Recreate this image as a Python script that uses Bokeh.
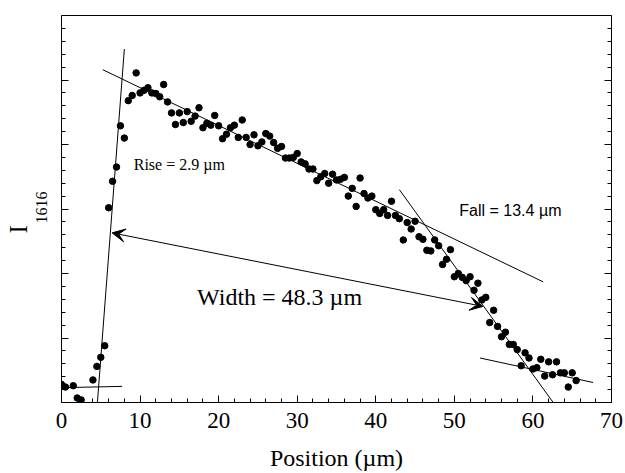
from bokeh.plotting import figure
from bokeh.models import (LinearAxis, SingleIntervalTicker, FixedTicker, Label, Arrow,
                          VeeHead, Range1d, ColumnDataSource, Title)
from bokeh.embed import file_html
from bokeh.resources import INLINE

# ---- data (position in micrometres, I1616 intensity in arbitrary units) ----
position_um = [0, 0.5, 1.5, 2, 2.5, 4, 4.5, 5, 5.5, 6, 6.5, 7, 7.5, 8, 8.5, 9, 9.5,
               10, 10.5, 11, 11.5, 12, 12.5, 13, 13.5, 14, 14.5, 15, 15.5, 16, 16.5,
               17, 17.5, 18, 18.5, 19, 19.5, 20, 20.5, 21, 21.5, 22, 22.5, 23, 23.5,
               24, 24.5, 25, 25.5, 26, 26.5, 27, 27.5, 28, 28.5, 29, 29.5, 30, 30.5,
               31, 31.5, 32, 32.5, 33, 33.5, 34, 34.5, 35, 35.5, 36, 36.5, 37, 37.5,
               38, 38.5, 39, 39.5, 40, 40.5, 41, 41.5, 42, 42.5, 43, 43.5, 44, 44.5,
               45, 45.5, 46, 46.5, 47, 47.5, 48, 48.5, 49, 49.5, 50, 50.5, 51, 51.5,
               52, 52.5, 53, 53.5, 54, 54.5, 55, 55.5, 56, 56.5, 57, 57.5, 58, 58.5,
               59, 59.5, 60, 60.5, 61, 61.5, 62, 62.5, 63, 63.5, 64, 64.5, 65, 65.5]
intensity = [0.28, 0.24, 0.26, 0.07, 0.04, 0.35, 0.56, 0.70, 0.88, 3.02, 3.43, 3.65, 4.29,
             4.10, 4.68, 4.76, 5.11, 4.80, 4.84, 4.88, 4.80, 4.79, 4.74, 4.93, 4.66, 4.49,
             4.31, 4.49, 4.34, 4.51, 4.36, 4.44, 4.57, 4.26, 4.33, 4.30, 4.45, 4.29, 4.09,
             4.16, 4.26, 4.30, 4.11, 4.38, 4.11, 4.00, 4.15, 3.98, 4.04, 4.17, 4.13, 4.03,
             3.94, 3.97, 3.79, 3.79, 3.80, 3.86, 3.73, 3.70, 3.62, 3.62, 3.44, 3.50, 3.55,
             3.40, 3.54, 3.45, 3.46, 3.49, 3.20, 3.32, 3.04, 3.48, 3.24, 3.17, 3.20, 2.99,
             2.93, 2.99, 2.90, 3.12, 2.90, 2.85, 2.52, 2.79, 2.69, 2.81, 2.57, 2.53, 2.36,
             2.35, 2.52, 2.43, 2.14, 2.22, 2.37, 1.95, 2.00, 1.94, 1.89, 1.95, 1.74, 1.85,
             1.59, 1.63, 1.24, 1.43, 1.18, 1.02, 1.09, 0.90, 0.90, 0.82, 0.57, 0.77, 0.69,
             0.52, 0.54, 0.67, 0.41, 0.63, 0.43, 0.63, 0.46, 0.46, 0.24, 0.46, 0.34]

# fitted lines (endpoints in data units)
rise_fit_x = [4.57, 8.0]
rise_fit_y = [0.0, 5.48]
base_fit_x = [0.0, 7.72]
base_fit_y = [0.23, 0.25]
plateau_fit_x = [5.25, 61.31]
plateau_fit_y = [5.16, 1.87]
fall_fit_x = [43.0, 62.58]
fall_fit_y = [3.30, 0.0]
tail_fit_x = [53.26, 67.66]
tail_fit_y = [0.69, 0.31]
width_arrow_x = [6.44, 53.64]
width_arrow_y = [2.63, 1.49]

x_ticks = [0, 10, 20, 30, 40, 50, 60, 70]
y_major_ticks = [0, 1, 2, 3, 4, 5, 6]
y_minor_ticks = [0.2, 0.4, 0.6, 0.8, 1.2, 1.4, 1.6, 1.8, 2.2, 2.4, 2.6, 2.8,
                 3.2, 3.4, 3.6, 3.8, 4.2, 4.4, 4.6, 4.8, 5.2, 5.4, 5.6, 5.8]
rise_text = "Rise = 2.9 µm"
fall_text = "Fall = 13.4 µm"
width_text = "Width = 48.3 µm"
x_label = "Position (µm)"
y_label_main = "I"
y_label_sub = "1616"

SERIF = "Liberation Serif"
SANS = "Liberation Sans"

p = figure(width=625, height=473, output_backend="svg", toolbar_location=None,
           x_range=Range1d(x_ticks[0], x_ticks[-1]),
           y_range=Range1d(y_major_ticks[0], y_major_ticks[-1]),
           min_border_left=61, min_border_right=14, min_border_top=15,
           min_border_bottom=71)
p.background_fill_color = "white"
p.border_fill_color = "white"
p.outline_line_color = "black"
p.outline_line_width = 1
p.xgrid.visible = False
p.ygrid.visible = False

# bottom axis
xa = p.xaxis[0]
xa.ticker = SingleIntervalTicker(interval=10, num_minor_ticks=5)
xa.axis_label = x_label
xa.axis_label_text_font = SERIF
xa.axis_label_text_font_style = "normal"
xa.axis_label_text_font_size = "24px"
xa.axis_label_text_color = "black"
xa.axis_label_standoff = 14
xa.major_label_text_font = SERIF
xa.major_label_text_font_size = "23px"
xa.major_label_text_color = "black"
xa.major_label_standoff = 10
xa.major_tick_in = 7
xa.major_tick_out = 0
xa.minor_tick_in = 4
xa.minor_tick_out = 0
xa.axis_line_color = "black"

# left axis: minor ticks (no labels), pinned to the frame edge
ya = p.yaxis[0]
ya.ticker = FixedTicker(ticks=[], minor_ticks=y_minor_ticks)
ya.fixed_location = x_ticks[0]
ya.major_label_standoff = 0
ya.major_tick_in = 0
ya.major_tick_out = 0
ya.minor_tick_in = 4
ya.minor_tick_out = 0
ya.axis_line_color = "black"

# left axis: major ticks (no labels)
ya_major = LinearAxis(ticker=FixedTicker(ticks=[], minor_ticks=y_major_ticks),
                      fixed_location=x_ticks[0], major_label_standoff=0,
                      major_tick_in=0, major_tick_out=0, minor_tick_in=7,
                      minor_tick_out=0, axis_line_color=None)
p.add_layout(ya_major, "left")

# right axis mirrors (minor + major ticks)
ra_minor = LinearAxis(ticker=FixedTicker(ticks=[], minor_ticks=y_minor_ticks),
                      fixed_location=x_ticks[-1], major_label_standoff=0,
                      major_tick_in=0, major_tick_out=0, minor_tick_in=4,
                      minor_tick_out=0, axis_line_color="black")
ra_major = LinearAxis(ticker=FixedTicker(ticks=[], minor_ticks=y_major_ticks),
                      fixed_location=x_ticks[-1], major_label_standoff=0,
                      major_tick_in=0, major_tick_out=0, minor_tick_in=7,
                      minor_tick_out=0, axis_line_color=None)
p.add_layout(ra_minor, "right")
p.add_layout(ra_major, "right")

# y-axis label I_1616 as two rotated titles on the left
t_sub = Title(text=y_label_sub, align="left", offset=179, vertical_align="bottom",
              standoff=29, text_font=SERIF, text_font_size="16px",
              text_font_style="normal", text_color="black")
t_main = Title(text=y_label_main, align="left", offset=169, vertical_align="bottom",
               standoff=-25, text_font=SERIF, text_font_size="25px",
               text_font_style="normal", text_color="black")
p.add_layout(t_sub, "left")
p.add_layout(t_main, "left")

# data points
src = ColumnDataSource(data=dict(x=position_um, y=intensity))
p.scatter("x", "y", source=src, size=6.5, color="black", marker="circle")

# fit lines
for xs, ys in [(rise_fit_x, rise_fit_y), (base_fit_x, base_fit_y),
               (plateau_fit_x, plateau_fit_y), (fall_fit_x, fall_fit_y),
               (tail_fit_x, tail_fit_y)]:
    p.line(xs, ys, line_color="black", line_width=1)

# width arrow
p.add_layout(Arrow(x_start=width_arrow_x[0], y_start=width_arrow_y[0],
                   x_end=width_arrow_x[1], y_end=width_arrow_y[1],
                   line_color="black", line_width=1,
                   start=VeeHead(size=13, fill_color="black", line_color="black"),
                   end=VeeHead(size=13, fill_color="black", line_color="black")))

# annotations
p.add_layout(Label(x=9.19, y=3.555, text=rise_text, text_font=SERIF,
                   text_font_size="16px", text_color="black"))
p.add_layout(Label(x=50.63, y=2.848, text=fall_text, text_font=SANS,
                   text_font_size="16px", text_color="black"))
p.add_layout(Label(x=17.25, y=1.437, text=width_text, text_font=SERIF,
                   text_font_size="24px", text_color="black"))

open("out.html", "w").write(file_html(p, INLINE))
